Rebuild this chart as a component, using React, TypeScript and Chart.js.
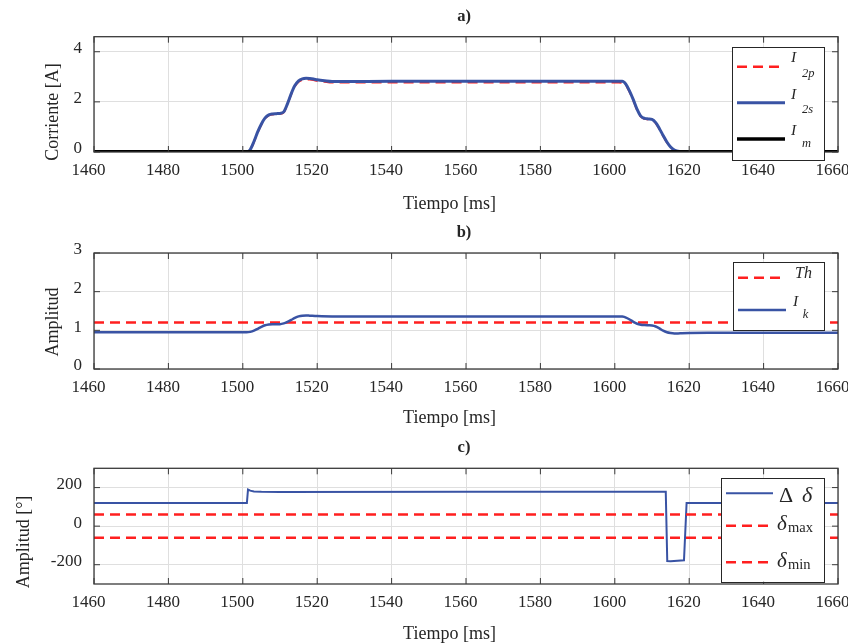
import React, { useEffect, useRef } from "react";
import { Chart, registerables } from "chart.js";

Chart.register(...registerables);

// ---------------- data ----------------
const xTicks = [1460, 1480, 1500, 1520, 1540, 1560, 1580, 1600, 1620, 1640, 1660];

// Panel a) currents
const yTicksA = [0, 2, 4];
const tA = [1460, 1500, 1501, 1502, 1503, 1504, 1505, 1506, 1507, 1508, 1509, 1510, 1511, 1512, 1513, 1514, 1515, 1516, 1517, 1518, 1519, 1520, 1522, 1524, 1527, 1540, 1580, 1600, 1601, 1602, 1603, 1604, 1605, 1606, 1607, 1608, 1609, 1610, 1611, 1612, 1613, 1614, 1615, 1616, 1617, 1618, 1620, 1625, 1660];
const i2s = [0, 0, 0, 0.1, 0.42, 0.8, 1.12, 1.36, 1.48, 1.52, 1.53, 1.54, 1.6, 1.92, 2.32, 2.65, 2.84, 2.92, 2.94, 2.93, 2.91, 2.88, 2.84, 2.81, 2.81, 2.82, 2.82, 2.82, 2.82, 2.82, 2.7, 2.42, 2.08, 1.7, 1.43, 1.34, 1.32, 1.3, 1.17, 0.93, 0.66, 0.4, 0.2, 0.08, 0.03, 0.01, 0, 0, 0];
const i2p = [0, 0, 0, 0.09, 0.4, 0.78, 1.1, 1.34, 1.46, 1.5, 1.51, 1.52, 1.58, 1.9, 2.3, 2.62, 2.8, 2.88, 2.9, 2.89, 2.87, 2.84, 2.8, 2.77, 2.77, 2.77, 2.77, 2.77, 2.77, 2.76, 2.66, 2.39, 2.05, 1.67, 1.41, 1.32, 1.3, 1.28, 1.15, 0.91, 0.64, 0.38, 0.19, 0.07, 0.02, 0.01, 0, 0, 0];
const tM = [1460, 1660];
const iM = [0, 0];

// Panel b) amplitude
const yTicksB = [0, 1, 2, 3];
const tB = [1460, 1501, 1502, 1503, 1504, 1505, 1506, 1507, 1508, 1509, 1510, 1511, 1512, 1513, 1514, 1515, 1516, 1517, 1518, 1520, 1524, 1560, 1601, 1602, 1603, 1604, 1605, 1606, 1607, 1608, 1609, 1610, 1611, 1612, 1613, 1614, 1615, 1616, 1617, 1618, 1620, 1625, 1660];
const ik = [0.95, 0.95, 0.96, 0.99, 1.04, 1.09, 1.13, 1.15, 1.16, 1.16, 1.16, 1.18, 1.22, 1.27, 1.32, 1.36, 1.38, 1.385, 1.38, 1.37, 1.36, 1.36, 1.36, 1.355, 1.33, 1.28, 1.22, 1.17, 1.145, 1.135, 1.13, 1.125, 1.1, 1.05, 0.99, 0.95, 0.93, 0.92, 0.92, 0.925, 0.93, 0.935, 0.935];
const tTh = [1460, 1660];
const th = [1.2, 1.2];

// Panel c) angle
const yTicksC = [-200, 0, 200];
const tC = [1460, 1501.1, 1501.4, 1502, 1503, 1505, 1510, 1560, 1613.7, 1614.1, 1615, 1618.6, 1619.3, 1660];
const dDelta = [120, 120, 190, 184, 180, 178, 177, 178, 178, -181, -182, -177, 120, 120];
const tLim = [1460, 1660];
const dMax = [60, 60];
const dMin = [-60, -60];

// ---------------- styling ----------------
const FONT = "'Liberation Serif', 'Times New Roman', Times, serif";
const TXT = "#262626";
const AXIS = "#3a3a3a";
const GRID = "#dfdfdf";
const BLUE = "#3953a4";
const RED = "#ff1f1f";
const W = 848;
const H = 643;
const XH = 30;
const TL = 6;

const pts = (xs: number[], ys: number[]) => xs.map((x, i) => ({ x, y: ys[i] }));

function sample(ctx: CanvasRenderingContext2D, x0: number, x1: number, y: number, color: string, width: number, dash: number[]) {
  ctx.save();
  ctx.strokeStyle = color;
  ctx.lineWidth = width;
  ctx.setLineDash(dash);
  ctx.beginPath();
  ctx.moveTo(x0, y);
  ctx.lineTo(x1, y);
  ctx.stroke();
  ctx.restore();
}

function txt(ctx: CanvasRenderingContext2D, s: string, x: number, y: number, font: string) {
  ctx.save();
  ctx.font = font;
  ctx.fillStyle = TXT;
  ctx.textAlign = "left";
  ctx.textBaseline = "alphabetic";
  ctx.fillText(s, x, y);
  ctx.restore();
}

function box(ctx: CanvasRenderingContext2D, x0: number, y0: number, x1: number, y1: number) {
  ctx.save();
  ctx.fillStyle = "#ffffff";
  ctx.fillRect(x0, y0, x1 - x0, y1 - y0);
  ctx.strokeStyle = "#262626";
  ctx.lineWidth = 1;
  ctx.strokeRect(Math.round(x0) + 0.5, Math.round(y0) + 0.5, Math.round(x1 - x0), Math.round(y1 - y0));
  ctx.restore();
}

const DASH = [10, 6];

function legendA(ctx: CanvasRenderingContext2D) {
  box(ctx, 732, 47, 824, 160);
  sample(ctx, 737, 785, 66.7, RED, 2.5, DASH);
  txt(ctx, "I", 791, 62, `italic 15.5px ${FONT}`);
  txt(ctx, "2p", 802, 77, `italic 12.5px ${FONT}`);
  sample(ctx, 737, 785, 102.7, BLUE, 3, []);
  txt(ctx, "I", 791, 99, `italic 15.5px ${FONT}`);
  txt(ctx, "2s", 802, 113, `italic 12.5px ${FONT}`);
  sample(ctx, 737, 785, 139, "#000000", 3.5, []);
  txt(ctx, "I", 791, 135, `italic 15.5px ${FONT}`);
  txt(ctx, "m", 802, 146.7, `italic 12.5px ${FONT}`);
}

function legendB(ctx: CanvasRenderingContext2D) {
  box(ctx, 733, 262, 824, 330);
  sample(ctx, 738, 786, 277.7, RED, 2.5, DASH);
  txt(ctx, "Th", 795, 277.7, `italic 16px ${FONT}`);
  sample(ctx, 738, 786, 310, BLUE, 2.5, []);
  txt(ctx, "I", 793, 305.7, `italic 15.5px ${FONT}`);
  txt(ctx, "k", 802.7, 317.7, `italic 12.5px ${FONT}`);
}

function legendC(ctx: CanvasRenderingContext2D) {
  box(ctx, 721, 478, 824, 581.7);
  sample(ctx, 726, 773, 493.3, BLUE, 2, []);
  txt(ctx, "Δ", 779, 501.7, `22px ${FONT}`);
  txt(ctx, "δ", 802, 501.7, `italic 22px ${FONT}`);
  sample(ctx, 726, 773, 525.7, RED, 2.5, DASH);
  txt(ctx, "δ", 777, 530, `italic 21px ${FONT}`);
  txt(ctx, "max", 788, 531.7, `14.5px ${FONT}`);
  sample(ctx, 726, 773, 562.3, RED, 2.5, DASH);
  txt(ctx, "δ", 777, 566.7, `italic 21px ${FONT}`);
  txt(ctx, "min", 788, 569.3, `14.5px ${FONT}`);
}

type Panel = {
  top: number;
  bottom: number;
  yMin: number;
  yMax: number;
  yTicks: number[];
  datasets: any[];
  title: string;
  titleY: number;
  ylabel: string;
  ylabelX: number;
  ylabelY: number;
  xlabelY: number;
  legend: (ctx: CanvasRenderingContext2D) => void;
};

const panels: Panel[] = [
  {
    top: 36.7, bottom: 152, yMin: 0, yMax: 4.6, yTicks: yTicksA,
    datasets: [
      { label: "I_m", data: pts(tM, iM), borderColor: "#000000", borderWidth: 4, pointRadius: 0 },
      { label: "I_2s", data: pts(tA, i2s), borderColor: BLUE, borderWidth: 3, pointRadius: 0, cubicInterpolationMode: "monotone" },
      { label: "I_2p", data: pts(tA, i2p), borderColor: RED, borderWidth: 2, borderDash: DASH, pointRadius: 0, cubicInterpolationMode: "monotone" },
    ],
    title: "a)", titleY: 16.5, ylabel: "Corriente [A]", ylabelX: 53, ylabelY: 112, xlabelY: 204, legend: legendA,
  },
  {
    top: 253, bottom: 369, yMin: 0, yMax: 3, yTicks: yTicksB,
    datasets: [
      { label: "I_k", data: pts(tB, ik), borderColor: BLUE, borderWidth: 2.5, pointRadius: 0, cubicInterpolationMode: "monotone" },
      { label: "Th", data: pts(tTh, th), borderColor: RED, borderWidth: 2.5, borderDash: DASH, pointRadius: 0 },
    ],
    title: "b)", titleY: 232.5, ylabel: "Amplitud", ylabelX: 53, ylabelY: 322, xlabelY: 418.5, legend: legendB,
  },
  {
    top: 468.3, bottom: 584, yMin: -300, yMax: 300, yTicks: yTicksC,
    datasets: [
      { label: "δmin", data: pts(tLim, dMin), borderColor: RED, borderWidth: 2.5, borderDash: DASH, pointRadius: 0 },
      { label: "δmax", data: pts(tLim, dMax), borderColor: RED, borderWidth: 2.5, borderDash: DASH, pointRadius: 0 },
      { label: "Δδ", data: pts(tC, dDelta), borderColor: BLUE, borderWidth: 2, pointRadius: 0, tension: 0 },
    ],
    title: "c)", titleY: 447.7, ylabel: "Amplitud [°]", ylabelX: 24, ylabelY: 542, xlabelY: 634, legend: legendC,
  },
];

function makeDeco(p: Panel) {
  return {
    id: "matlabDeco",
    afterDraw(chart: any) {
      const ctx: CanvasRenderingContext2D = chart.ctx;
      const a = chart.chartArea;
      const xs = chart.scales.x;
      const ys = chart.scales.y;
      ctx.save();
      ctx.strokeStyle = AXIS;
      ctx.lineWidth = 1.3;
      ctx.strokeRect(a.left, a.top, a.right - a.left, a.bottom - a.top);
      ctx.lineWidth = 1;
      ctx.beginPath();
      for (const v of xTicks) {
        const x = xs.getPixelForValue(v);
        ctx.moveTo(x, a.top);
        ctx.lineTo(x, a.top + TL);
        ctx.moveTo(x, a.bottom);
        ctx.lineTo(x, a.bottom - TL);
      }
      for (const v of p.yTicks) {
        const y = ys.getPixelForValue(v);
        ctx.moveTo(a.left, y);
        ctx.lineTo(a.left + TL, y);
        ctx.moveTo(a.right, y);
        ctx.lineTo(a.right - TL, y);
      }
      ctx.stroke();

      ctx.fillStyle = TXT;
      ctx.textAlign = "center";
      ctx.textBaseline = "middle";
      ctx.font = `bold 16.5px ${FONT}`;
      ctx.fillText(p.title, 464, p.titleY);
      ctx.font = `18px ${FONT}`;
      ctx.fillText("Tiempo [ms]", 449.5, p.xlabelY);
      ctx.save();
      ctx.translate(p.ylabelX, p.ylabelY);
      ctx.rotate(-Math.PI / 2);
      ctx.fillText(p.ylabel, 0, 0);
      ctx.restore();
      ctx.restore();
      p.legend(ctx);
    },
  };
}

const fmt = (v: any) => String(v);

function PanelChart({ p }: { p: Panel }) {
  const ref = useRef<HTMLCanvasElement | null>(null);
  useEffect(() => {
    if (!ref.current) return;
    const chart = new Chart(ref.current, {
      type: "line",
      data: { datasets: p.datasets },
      options: {
        responsive: false,
        animation: false,
        devicePixelRatio: 1,
        events: [],
        layout: { padding: { left: 0, right: W - 838, top: p.top, bottom: H - p.bottom - XH } },
        plugins: { legend: { display: false }, tooltip: { enabled: false }, title: { display: false } },
        scales: {
          x: {
            type: "linear",
            min: 1460,
            max: 1660,
            grid: { color: GRID, drawTicks: false, lineWidth: 1 },
            border: { display: false },
            ticks: { color: TXT, font: { family: FONT, size: 17 }, padding: 8, labelOffset: -5.5, maxRotation: 0, autoSkip: false, callback: fmt },
            afterBuildTicks: (s: any) => { s.ticks = xTicks.map((v) => ({ value: v })); },
            afterFit: (s: any) => { s.height = XH; s.paddingLeft = 0; s.paddingRight = 0; },
          },
          y: {
            type: "linear",
            min: p.yMin,
            max: p.yMax,
            grid: { color: GRID, drawTicks: false, lineWidth: 1 },
            border: { display: false },
            ticks: { color: TXT, font: { family: FONT, size: 17 }, padding: 12, labelOffset: -3, callback: fmt },
            afterBuildTicks: (s: any) => { s.ticks = p.yTicks.map((v) => ({ value: v })); },
            afterFit: (s: any) => { s.width = 94; s.paddingTop = 0; s.paddingBottom = 0; },
          },
        },
      } as any,
      plugins: [makeDeco(p)],
    });
    return () => chart.destroy();
  }, [p]);
  return (
    <canvas
      ref={ref}
      width={W}
      height={H}
      style={{ position: "absolute", left: 0, top: 0, width: W, height: H }}
    />
  );
}

export default function App() {
  return (
    <div style={{ position: "absolute", left: 0, top: 0, width: W, height: H, background: "#ffffff" }}>
      {panels.map((p, i) => (
        <PanelChart key={i} p={p} />
      ))}
    </div>
  );
}
